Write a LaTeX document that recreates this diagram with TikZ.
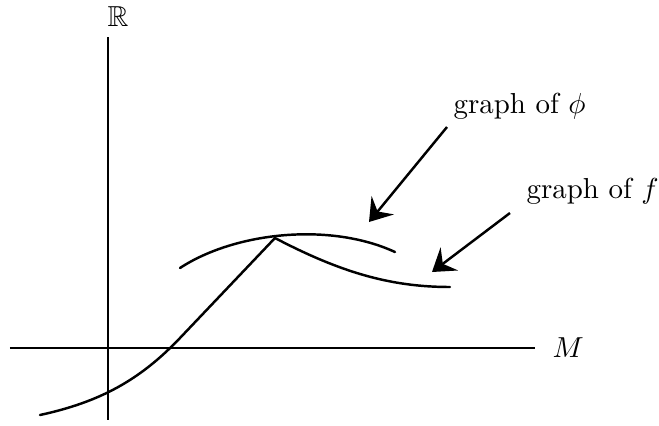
\documentclass[tikz,border=0pt]{standalone}
\usepackage{amssymb}
\usetikzlibrary{arrows.meta}
\begin{document}
\begin{tikzpicture}[x=0.346pt,y=-0.346pt,
  curve/.style={line width=0.85pt,line cap=round,line join=miter},
  pointer/.style={line width=0.85pt,-{Stealth[length=7.5pt,width=10pt,inset=2.8pt]}},
  lbl/.style={inner sep=0pt,anchor=base west}]
\useasboundingbox (0,0) rectangle (659,425);
% axes
\draw[line width=0.85pt] (10,348) -- (535,348);
\draw[line width=0.85pt] (108,37) -- (108,420);
\node[inner sep=0pt,anchor=base] (R) at (118,26) {$\mathbb{R}$};
\node[inner sep=0pt,anchor=base west] (M) at (552,357) {$M$};
% graph of f
\draw[curve] (40,415) .. controls (100,402) and (140,380) .. (180,338) -- (275,238)
  .. controls (340,272) and (390,287) .. (450,287);
% graph of phi
\draw[curve] (180,268) .. controls (235,232) and (330,222) .. (395,252);
% labels and pointers
\node[lbl] (lphi) at (453,113) {graph of $\phi$};
\node[lbl] (lf) at (526,198) {graph of $f$};
\coordinate (a1s) at (447,127);
\coordinate (a1e) at (369,222);
\coordinate (a2s) at (510,213);
\coordinate (a2e) at (432,272);
\draw[pointer] (a1s) -- (a1e);
\draw[pointer] (a2s) -- (a2e);
\end{tikzpicture}
\end{document}
